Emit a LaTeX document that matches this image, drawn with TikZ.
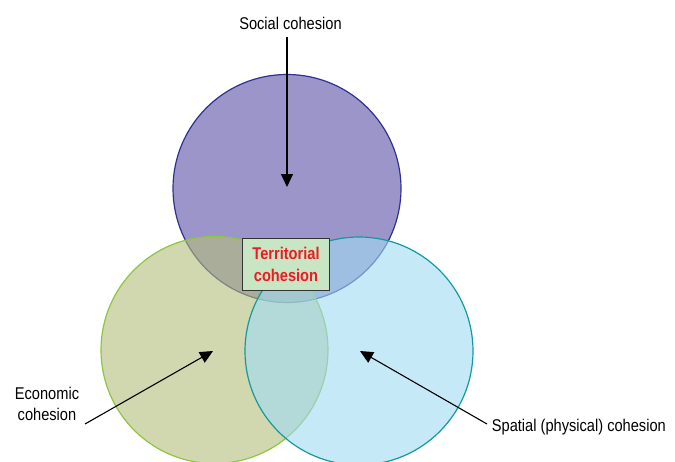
\documentclass[tikz,border=0pt]{standalone}
\usepackage{fontspec}
\newfontfamily\lab[FakeStretch=0.86]{Liberation Sans}
\usetikzlibrary{arrows.meta}
\definecolor{purplefill}{HTML}{9C95C9}
\definecolor{purpleline}{HTML}{2E3192}
\definecolor{greenfill}{HTML}{B2BE7A}
\definecolor{greenline}{HTML}{8DC63F}
\definecolor{bluefill}{HTML}{A0DAF3}
\definecolor{blueline}{HTML}{129A9C}
\definecolor{boxfill}{HTML}{C8E6C4}
\definecolor{boxline}{HTML}{333333}
\definecolor{boxtext}{HTML}{ED1C24}
\tikzset{
  labeltext/.style={font=\lab\fontsize{17}{20.7}\selectfont, text=black, inner sep=0pt},
  pointer/.style={draw=black, line width=1.1pt, -{Triangle[length=13pt,width=12pt]}},
}
\begin{document}
\begin{tikzpicture}[x=1pt,y=-1pt]
\useasboundingbox (0,0) rectangle (675,461);
\begin{scope}
\clip (0,0) rectangle (675,461);
\draw[fill=purplefill, draw=purpleline, line width=1.2pt] (287,188.5) circle[radius=114];
\draw[fill=greenfill, fill opacity=0.6, draw=greenline, line width=1.2pt] (214.5,350) circle[radius=113.5];
\draw[fill=bluefill, fill opacity=0.6, draw=blueline, line width=1.2pt] (359,351) circle[radius=114];
\end{scope}
\node[draw=boxline, fill=boxfill, line width=1.2pt, minimum width=86.6pt, minimum height=52.4pt, inner sep=0pt, align=center,
  font=\lab\bfseries\fontsize{17}{22.4}\selectfont, text=boxtext] (terr) at (286,264.5) {Territorial\\cohesion};
\node[labeltext, anchor=base] (social) at (290.5,29.3) {Social cohesion};
\node[labeltext, anchor=base, align=center] (econ) at (47,420) {Economic\\cohesion};
\node[labeltext, anchor=base west] (spatial) at (491.7,431.7) {Spatial (physical) cohesion};
\coordinate (socialstart) at (287,37);
\coordinate (socialtip) at (287,187);
\coordinate (econstart) at (85,424);
\coordinate (econtip) at (213,351);
\coordinate (spatialstart) at (487,424);
\coordinate (spatialtip) at (360,351);
\draw[pointer] (socialstart) -- (socialtip);
\draw[pointer] (econstart) -- (econtip);
\draw[pointer] (spatialstart) -- (spatialtip);
\end{tikzpicture}
\end{document}
